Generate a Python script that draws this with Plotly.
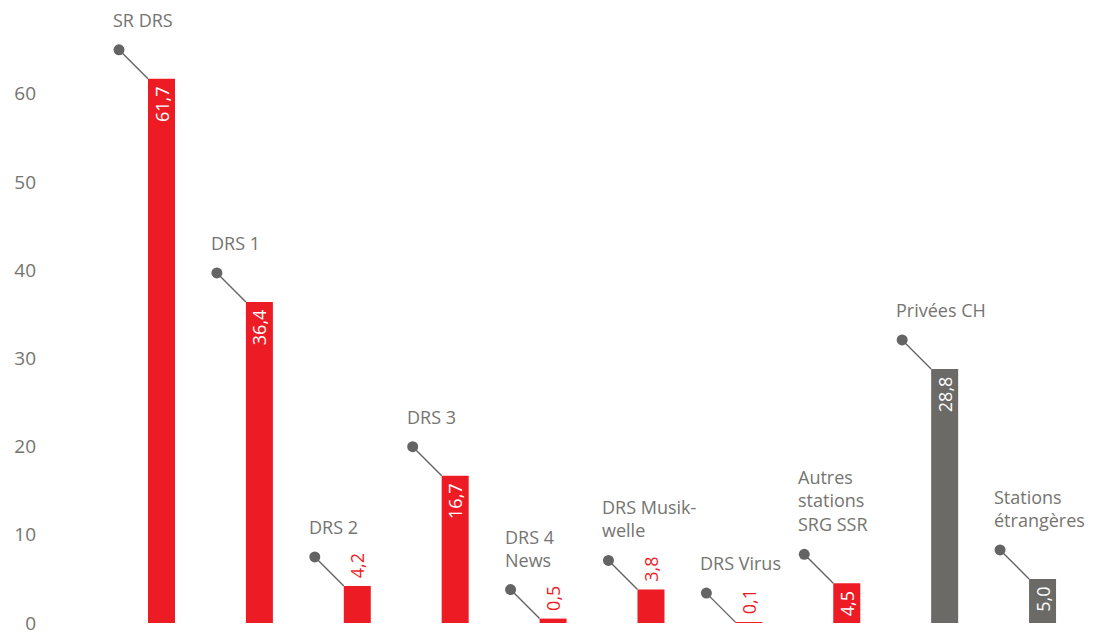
import plotly.graph_objects as go

categories = ["SR DRS", "DRS 1", "DRS 2", "DRS 3", "DRS 4<br>News", "DRS Musik-<br>welle",
              "DRS Virus", "Autres<br>stations<br>SRG SSR", "Privées CH", "Stations<br>étrangères"]
values = [61.7, 36.4, 4.2, 16.7, 0.5, 3.8, 0.1, 4.5, 28.8, 5.0]
value_labels = ["61,7", "36,4", "4,2", "16,7", "0,5", "3,8", "0,1", "4,5", "28,8", "5,0"]
group = ["ssr", "ssr", "ssr", "ssr", "ssr", "ssr", "ssr", "ssr", "other", "other"]
label_inside = [True, True, False, True, False, False, False, True, True, True]
y_ticks = [0, 10, 20, 30, 40, 50, 60]

RED = "#ED1C24"
GREY_BAR = "#6B6A66"
GREY_TXT = "#757470"
DOT = "#646464"
FONT = "Open Sans"

# page offset compensation (body margin)
W, H = 1085, 628
ML, MR, MT, MB = 42, 20, 2, 13
XR = [-1.139, 9.311]
YR = [0, 69.5]
px_x = (W - ML - MR) / (XR[1] - XR[0])
px_y = (H - MT - MB) / (YR[1] - YR[0])
bar_w = 27 / px_x
off_x = 29 / px_x
off_y = 29 / px_y

xs = list(range(len(values)))
colors = [RED if g == "ssr" else GREY_BAR for g in group]

fig = go.Figure()
fig.add_trace(go.Bar(
    x=xs, y=values, width=bar_w, marker=dict(color=colors, line=dict(width=0)),
    text=value_labels, textangle=-90,
    texttemplate=["%{text}\u00a0" if b else "\u00a0%{text}" for b in label_inside],
    textposition=["inside" if b else "outside" for b in label_inside],
    insidetextanchor="end",
    textfont=dict(family=FONT, size=18,
                  color=["white" if b else RED for b in label_inside]),
    constraintext="none", cliponaxis=False, hoverinfo="skip",
))

# connectors
lx, ly, dx, dy = [], [], [], []
for i, v in zip(xs, values):
    bx = i - bar_w / 2
    px_, py_ = bx - off_x, v + off_y
    lx += [px_, bx, None]
    ly += [py_, v, None]
    dx.append(px_)
    dy.append(py_)
fig.add_trace(go.Scatter(x=lx, y=ly, mode="lines", line=dict(color=DOT, width=1.4),
                         hoverinfo="skip", cliponaxis=False))
fig.add_trace(go.Scatter(x=dx, y=dy, mode="markers", marker=dict(color=DOT, size=11),
                         hoverinfo="skip", cliponaxis=False))

for c, x_, y_ in zip(categories, dx, dy):
    fig.add_annotation(x=x_, y=y_, text=c, showarrow=False, xanchor="left", yanchor="bottom",
                       align="left", xshift=-8, yshift=16,
                       font=dict(family=FONT, size=18, color=GREY_TXT))

fig.update_layout(
    width=W, height=H, margin=dict(l=ML, r=MR, t=MT, b=MB),
    paper_bgcolor="white", plot_bgcolor="white", showlegend=False,
    xaxis=dict(range=XR, visible=False, fixedrange=True),
    yaxis=dict(range=YR, tickvals=y_ticks, ticktext=[str(t) for t in y_ticks],
               showgrid=False, zeroline=False, showline=False, ticks="",
               ticklabelstandoff=13, automargin=False,
               tickfont=dict(family=FONT, size=19, color=GREY_TXT)),
)
fig.write_html("out.html")
